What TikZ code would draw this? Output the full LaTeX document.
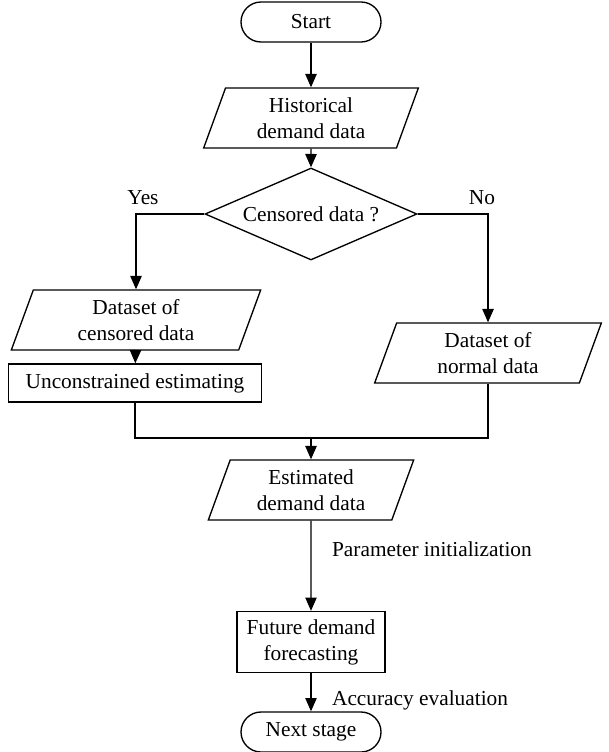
\documentclass[tikz,border=0pt]{standalone}
\usepackage{fontspec}
\setmainfont{Liberation Serif}
\usetikzlibrary{shapes.geometric, arrows.meta}

\begin{document}
\begin{tikzpicture}[x=0.75pt, y=-0.75pt,
	every node/.style={font=\fontsize{16}{19.5}\selectfont},
	term/.style={draw, line width=1pt, rectangle, rounded corners=15pt, minimum width=105pt, minimum height=30pt, inner sep=0pt},
	io/.style={draw, line width=1pt, trapezium, trapezium left angle=63.4, trapezium right angle=116.6, trapezium stretches body, minimum height=45pt, inner sep=1pt, align=center},
	proc/.style={draw, line width=1pt, rectangle, inner sep=0pt, align=center},
	cond/.style={draw, line width=1pt, diamond, aspect=2.3, minimum width=159pt, minimum height=69pt, inner sep=0pt},
	arr/.style={line width=1pt, -{Triangle[length=10pt, width=8.5pt]}},
	line/.style={line width=1pt}]
	\useasboundingbox (0,0) rectangle (608,752);

	\node[term] (start) at (311,22) {Start};
	\node[io, minimum width=161pt] (hist) at (311,118) {Historical\\demand data};
	\node[cond] (cens) at (311,214) {Censored data ?};
	\node[io, minimum width=187pt] (dcens) at (136,320) {Dataset of\\censored data};
	\node[proc, minimum width=190pt, minimum height=28.5pt] (unc) at (135,383) {Unconstrained estimating};
	\node[io, minimum width=170pt] (dnorm) at (488,353) {Dataset of\\normal data};
	\coordinate (merge) at (311,438);
	\node[io, minimum width=154pt] (estd) at (311,490) {Estimated\\demand data};
	\node[proc, minimum width=111pt, minimum height=45.75pt] (fut) at (311,642) {Future demand\\forecasting};
	\node[term] (next) at (311,732) {Next stage};

	\node (yes) at (143,198) {Yes};
	\node (no) at (482,198) {No};

	\draw[arr] (start) -- (hist);
	\draw[arr] (hist) -- (cens);
	\draw[arr] (cens.west) -| (dcens);
	\draw[arr] (cens.east) -| (dnorm);
	\draw[arr] (dcens) -- (unc);
	\draw[line] (unc.south) |- (dnorm.south |- merge) -- (dnorm.south);
	\draw[arr] (merge) -- (estd);
	\draw[arr] (estd) -- node[right, pos=0.32, xshift=12pt] {Parameter initialization} (fut);
	\draw[arr] (fut) -- node[right, pos=0.72, xshift=12pt] {Accuracy evaluation} (next);
\end{tikzpicture}
\end{document}
